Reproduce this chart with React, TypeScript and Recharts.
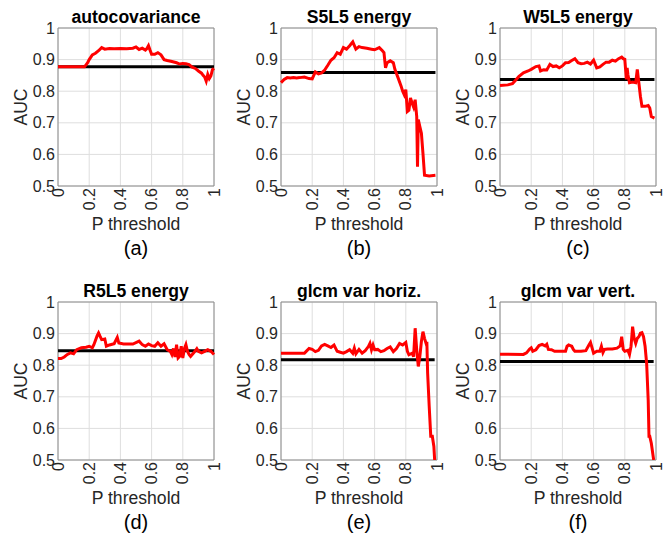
import React from 'react'
import { LineChart, Line, XAxis, YAxis, CartesianGrid, ReferenceArea } from 'recharts'

const titles = ['autocovariance', 'S5L5 energy', 'W5L5 energy', 'R5L5 energy', 'glcm var horiz.', 'glcm var vert.']
const captions = ['(a)', '(b)', '(c)', '(d)', '(e)', '(f)']
const xTicks = [0, 0.2, 0.4, 0.6, 0.8, 1]
const yTicks = [0.5, 0.6, 0.7, 0.8, 0.9, 1]

// black reference level per panel
const baselines = [0.877, 0.859, 0.837, 0.846, 0.817, 0.812]

const aP = [0, 0.17, 0.19, 0.2, 0.22, 0.24, 0.26, 0.28, 0.3, 0.33, 0.36, 0.4, 0.44, 0.48, 0.5, 0.52, 0.54, 0.56, 0.57, 0.58, 0.59, 0.6, 0.62, 0.64, 0.66, 0.68, 0.7, 0.73, 0.76, 0.78, 0.8, 0.82, 0.84, 0.86, 0.88, 0.9, 0.92, 0.93, 0.94, 0.95, 0.96, 0.97, 0.98, 0.99, 1.0]
const aAuc = [0.877, 0.877, 0.89, 0.9, 0.915, 0.92, 0.928, 0.938, 0.933, 0.935, 0.934, 0.935, 0.934, 0.936, 0.94, 0.932, 0.936, 0.93, 0.935, 0.944, 0.93, 0.917, 0.917, 0.922, 0.915, 0.9, 0.897, 0.894, 0.89, 0.886, 0.888, 0.887, 0.884, 0.876, 0.872, 0.864, 0.857, 0.85, 0.845, 0.832, 0.853, 0.84, 0.848, 0.868, 0.872]

const bP = [0, 0.02, 0.04, 0.06, 0.08, 0.1, 0.12, 0.15, 0.18, 0.2, 0.22, 0.24, 0.26, 0.28, 0.3, 0.32, 0.34, 0.36, 0.38, 0.4, 0.42, 0.44, 0.46, 0.48, 0.5, 0.52, 0.55, 0.58, 0.6, 0.63, 0.65, 0.66, 0.67, 0.68, 0.7, 0.72, 0.73, 0.75, 0.77, 0.78, 0.79, 0.8, 0.81, 0.82, 0.83, 0.84, 0.85, 0.86, 0.87, 0.875, 0.88, 0.89, 0.9, 0.91, 0.92, 0.95, 0.99]
const bAuc = [0.827, 0.837, 0.843, 0.842, 0.843, 0.842, 0.843, 0.845, 0.84, 0.839, 0.861, 0.855, 0.858, 0.867, 0.882, 0.898, 0.906, 0.922, 0.917, 0.938, 0.933, 0.944, 0.956, 0.933, 0.941, 0.938, 0.936, 0.933, 0.931, 0.938, 0.928, 0.922, 0.874, 0.89, 0.896, 0.89, 0.869, 0.843, 0.816, 0.8, 0.789, 0.805, 0.736, 0.74, 0.779, 0.763, 0.75, 0.773, 0.72, 0.561, 0.71, 0.688, 0.667, 0.603, 0.534, 0.532, 0.534]

const cP = [0, 0.05, 0.08, 0.1, 0.12, 0.15, 0.18, 0.2, 0.23, 0.25, 0.26, 0.28, 0.3, 0.32, 0.34, 0.36, 0.38, 0.4, 0.42, 0.44, 0.46, 0.48, 0.5, 0.52, 0.54, 0.56, 0.58, 0.6, 0.62, 0.64, 0.66, 0.68, 0.7, 0.72, 0.74, 0.76, 0.78, 0.79, 0.8, 0.81, 0.815, 0.82, 0.83, 0.85, 0.87, 0.88, 0.89, 0.9, 0.91, 0.93, 0.95, 0.96, 0.97, 0.99]
const cAuc = [0.818, 0.82, 0.824, 0.835, 0.846, 0.858, 0.864, 0.869, 0.878, 0.88, 0.864, 0.868, 0.867, 0.885, 0.878, 0.88, 0.874, 0.88, 0.89, 0.891, 0.897, 0.903, 0.89, 0.887, 0.888, 0.892, 0.886, 0.898, 0.874, 0.877, 0.885, 0.892, 0.892, 0.898, 0.895, 0.903, 0.908, 0.903, 0.901, 0.837, 0.874, 0.852, 0.827, 0.829, 0.827, 0.869, 0.827, 0.784, 0.752, 0.752, 0.755, 0.747, 0.72, 0.715]

const dP = [0, 0.02, 0.04, 0.06, 0.08, 0.1, 0.12, 0.15, 0.18, 0.2, 0.22, 0.23, 0.25, 0.26, 0.27, 0.28, 0.3, 0.31, 0.33, 0.36, 0.38, 0.39, 0.42, 0.45, 0.48, 0.52, 0.54, 0.56, 0.58, 0.6, 0.62, 0.64, 0.66, 0.68, 0.7, 0.72, 0.73, 0.74, 0.75, 0.76, 0.77, 0.78, 0.79, 0.8, 0.81, 0.82, 0.83, 0.84, 0.85, 0.87, 0.89, 0.9, 0.92, 0.94, 0.96, 0.98, 1.0]
const dAuc = [0.821, 0.821, 0.826, 0.834, 0.839, 0.836, 0.849, 0.855, 0.857, 0.86, 0.855, 0.865, 0.892, 0.902, 0.891, 0.881, 0.883, 0.86, 0.864, 0.868, 0.888, 0.87, 0.867, 0.867, 0.867, 0.876, 0.865, 0.86, 0.867, 0.862, 0.86, 0.871, 0.86, 0.868, 0.849, 0.844, 0.834, 0.853, 0.826, 0.865, 0.823, 0.828, 0.86, 0.823, 0.852, 0.865, 0.844, 0.834, 0.828, 0.839, 0.852, 0.844, 0.839, 0.844, 0.849, 0.844, 0.834]

const eP = [0, 0.15, 0.16, 0.18, 0.2, 0.22, 0.24, 0.26, 0.28, 0.3, 0.32, 0.34, 0.36, 0.38, 0.4, 0.42, 0.44, 0.46, 0.47, 0.48, 0.5, 0.52, 0.54, 0.56, 0.57, 0.58, 0.59, 0.6, 0.62, 0.64, 0.66, 0.68, 0.7, 0.72, 0.74, 0.76, 0.78, 0.8, 0.81, 0.82, 0.84, 0.85, 0.86, 0.87, 0.88, 0.89, 0.9, 0.91, 0.92, 0.93, 0.935, 0.94, 0.95, 0.96, 0.97, 0.98, 0.985]
const eAuc = [0.838, 0.838, 0.843, 0.853, 0.85, 0.843, 0.847, 0.861, 0.866, 0.861, 0.856, 0.864, 0.844, 0.841, 0.838, 0.843, 0.849, 0.838, 0.854, 0.836, 0.85, 0.838, 0.846, 0.859, 0.869, 0.849, 0.864, 0.849, 0.85, 0.843, 0.846, 0.853, 0.858, 0.843, 0.853, 0.869, 0.864, 0.872, 0.844, 0.833, 0.838, 0.827, 0.917, 0.848, 0.796, 0.827, 0.875, 0.906, 0.885, 0.869, 0.874, 0.775, 0.67, 0.575, 0.575, 0.543, 0.5]

const fP = [0, 0.15, 0.17, 0.19, 0.2, 0.21, 0.23, 0.25, 0.27, 0.29, 0.3, 0.31, 0.33, 0.35, 0.38, 0.42, 0.43, 0.44, 0.46, 0.47, 0.48, 0.52, 0.55, 0.57, 0.58, 0.6, 0.62, 0.64, 0.65, 0.66, 0.67, 0.69, 0.72, 0.75, 0.77, 0.78, 0.79, 0.8, 0.82, 0.83, 0.84, 0.85, 0.86, 0.87, 0.88, 0.89, 0.9, 0.91, 0.92, 0.93, 0.94, 0.95, 0.955, 0.96, 0.97, 0.985]
const fAuc = [0.835, 0.834, 0.839, 0.851, 0.855, 0.844, 0.849, 0.862, 0.866, 0.861, 0.866, 0.85, 0.849, 0.844, 0.844, 0.844, 0.86, 0.864, 0.86, 0.85, 0.844, 0.844, 0.846, 0.864, 0.872, 0.838, 0.844, 0.844, 0.86, 0.84, 0.85, 0.851, 0.851, 0.854, 0.861, 0.89, 0.85, 0.844, 0.847, 0.834, 0.86, 0.922, 0.885, 0.869, 0.885, 0.89, 0.901, 0.903, 0.89, 0.86, 0.806, 0.69, 0.575, 0.575, 0.553, 0.5]

const series = [[aP, aAuc], [bP, bAuc], [cP, cAuc], [dP, dAuc], [eP, eAuc], [fP, fAuc]]

// layout
const colLeft = [0, 222.5, 441.5]
const rowTop = [0, 274]
const W = 230
const H = 270
const PL = 58 // plot left inside panel
const PT = 28 // plot top inside panel
const PW = 156
const PH = 158
const CX = PL + PW / 2
const CY = PT + PH / 2
const ink = '#262626'

const fmt = (v: number) => String(v)

const XTick = (props: any) => {
  const { x, y, payload } = props
  return (
    <text
      x={x}
      y={y}
      transform={`rotate(-90 ${x} ${y})`}
      textAnchor="end"
      dominantBaseline="central"
      fontSize={16}
      fill={ink}
    >
      {fmt(payload.value)}
    </text>
  )
}

const Panel = ({ i }: { i: number }) => {
  const [ps, aucs] = series[i]
  const data = ps.map((p, k) => ({ p, auc: aucs[k], base: baselines[i] }))
  const left = colLeft[i % 3]
  const top = rowTop[Math.floor(i / 3)]
  return (
    <div style={{ position: 'absolute', left, top, width: W, height: H }}>
      <LineChart
        width={W}
        height={H}
        data={data}
        margin={{ top: PT, right: W - PL - PW, bottom: 0, left: 0 }}
      >
        <CartesianGrid stroke="#dedede" strokeWidth={1} />
        <XAxis
          type="number"
          dataKey="p"
          domain={[0, 1]}
          ticks={xTicks}
          interval={0}
          height={H - PT - PH}
          axisLine={false}
          tickLine={false}
          tickSize={2}
          tickMargin={0}
          tick={XTick}
        />
        <YAxis
          type="number"
          domain={[0.5, 1]}
          ticks={yTicks}
          interval={0}
          width={PL}
          allowDataOverflow
          axisLine={false}
          tickLine={false}
          tickSize={3}
          tickMargin={0}
          tickFormatter={fmt}
          tick={{ fontSize: 16, fill: ink }}
        />
        <ReferenceArea x1={0} x2={1} y1={0.5} y2={1} fill="none" fillOpacity={0} stroke="#8c8c8c" strokeWidth={1} />
        <Line type="linear" dataKey="base" stroke="#000000" strokeWidth={3} dot={false} isAnimationActive={false} />
        <Line type="linear" dataKey="auc" stroke="#ff0000" strokeWidth={3} dot={false} isAnimationActive={false} />
      </LineChart>
      <svg width={W} height={H} style={{ position: 'absolute', left: 0, top: 0, pointerEvents: 'none' }}>
        <text x={CX} y={23} textAnchor="middle" fontSize={17.6} fontWeight="bold" fill="#000">
          {titles[i]}
        </text>
        <text x={27} y={CY} transform={`rotate(-90 27 ${CY})`} textAnchor="middle" fontSize={17.6} fill={ink}>
          AUC
        </text>
        <text x={CX} y={230} textAnchor="middle" fontSize={17.6} fill={ink}>
          P threshold
        </text>
        <text x={CX} y={255} textAnchor="middle" fontSize={20} fill="#000">
          {captions[i]}
        </text>
      </svg>
    </div>
  )
}

export default function App() {
  return (
    <div
      style={{
        position: 'absolute',
        left: 0,
        top: 0,
        width: 664,
        height: 533,
        background: '#fff',
        overflow: 'hidden',
        fontFamily: '"Liberation Sans", Arial, sans-serif',
      }}
    >
      {titles.map((t, i) => (
        <Panel key={t} i={i} />
      ))}
    </div>
  )
}
